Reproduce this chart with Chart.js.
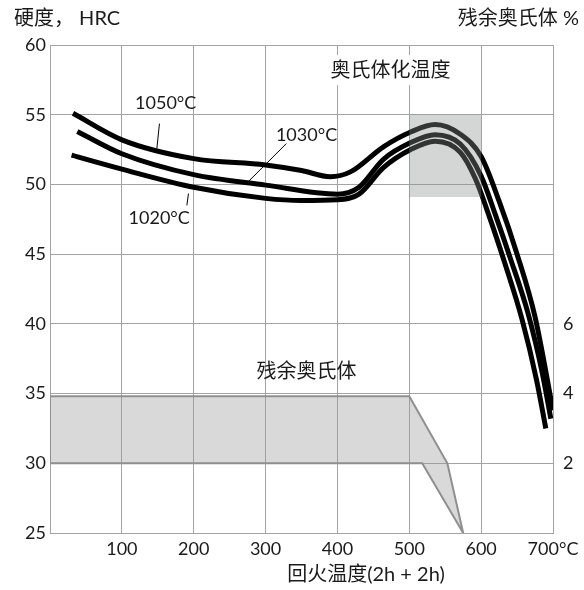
<!DOCTYPE html>
<html>
<head>
<meta charset="utf-8">
<script src="https://cdn.jsdelivr.net/npm/chart.js@4.4.1/dist/chart.umd.min.js"></script>
<style>
    html, body { margin: 0; padding: 0; background: #fff; }
    canvas { display: block; }
</style>
</head>
<body>
<canvas id="temperChart" width="584" height="590"></canvas>
<script>
// Hardness curves (tempering temperature °C -> HRC), one per austenitizing temperature
const temp1050 = [32, 100, 200, 300, 350, 390, 418, 464, 502, 536, 571, 600, 625, 650, 675, 700];
const hrc1050  = [55.1, 53.2, 51.85, 51.4, 51.0, 50.55, 50.9, 52.7, 53.76, 54.3, 53.6, 52.0, 48.8, 45.0, 40.5, 33.8];

const temp1030 = [38, 100, 200, 300, 400, 430, 464, 502, 536, 571, 600, 620, 640, 665, 685, 697];
const hrc1030  = [53.8, 52.2, 50.7, 49.95, 49.3, 49.8, 51.8, 53.0, 53.57, 52.9, 50.6, 47.8, 44.8, 40.8, 36.5, 33.2];

const temp1020 = [30, 100, 200, 300, 350, 400, 430, 464, 502, 536, 571, 592, 612, 632, 657, 677, 690];
const hrc1020  = [52.1, 51.1, 49.8, 49.0, 48.85, 48.9, 49.3, 51.2, 52.5, 53.1, 52.3, 50.4, 47.6, 44.5, 40.3, 36.0, 32.5];

// Retained austenite band (outline, in HRC-axis units)
const bandTemp = [0, 500, 553, 575, 518, 0, 0];
const bandHrc  = [34.8, 34.8, 30, 25, 30, 30, 34.8];

// Austenitizing temperature box
const boxTemp = [500, 600, 600, 500, 500];
const boxHrc  = [55, 55, 49.1, 49.1, 55];

// Tick labels
const xTicks = [100, 200, 300, 400, 500, 600, 700];
const rightTicks = [2, 4, 6];

const FONT = "Lato, 'Noto Sans CJK SC', sans-serif";
const INK = '#1a1a1a';
const GRID = '#a3a3a3';

function toPoints(xs, ys) {
    return xs.map((v, i) => ({ x: v, y: ys[i] }));
}

function curve(xs, ys) {
    return {
        data: toPoints(xs, ys),
        showLine: true,
        borderColor: '#000',
        borderWidth: 5,
        pointRadius: 0,
        tension: 0.4,
        cubicInterpolationMode: 'monotone',
        fill: false
    };
}

// text labels and leader lines, positioned in data units
const labels = [
    { text: '1050°C', x: 161, y: 55.8, lead: [152.3, 54.36, 148.7, 52.57] },
    { text: '1030°C', x: 357, y: 53.5, lead: [328.9, 52.93, 276.3, 50.22] },
    { text: '1020°C', x: 152, y: 47.6, lead: [192.7, 49.34, 190.5, 48.5] },
    { text: '残余奥氏体', x: 357, y: 36.55 },
    { text: '奥氏体化温度', x: 474, y: 58.2, boxed: true }
];

const annotate = {
    id: 'annotate',
    afterDatasetsDraw(chart) {
        const { ctx, scales } = chart;
        const sx = scales.x, sy = scales.y;
        ctx.save();
        labels.forEach(l => {
            const px = sx.getPixelForValue(l.x);
            const py = sy.getPixelForValue(l.y);
            const cjk = /[\u4e00-\u9fff]/.test(l.text);
            ctx.font = (cjk ? '20px ' : '18px ') + FONT;
            if (l.boxed) {
                const w = ctx.measureText(l.text).width;
                ctx.fillStyle = '#fff';
                ctx.fillRect(px - w / 2 - 6, py - 15, w + 12, 30);
            }
            ctx.fillStyle = INK;
            ctx.textAlign = 'center';
            ctx.textBaseline = 'middle';
            ctx.fillText(l.text, px, py);
            if (l.lead) {
                ctx.strokeStyle = '#000';
                ctx.lineWidth = 1;
                ctx.beginPath();
                ctx.moveTo(sx.getPixelForValue(l.lead[0]), sy.getPixelForValue(l.lead[1]));
                ctx.lineTo(sx.getPixelForValue(l.lead[2]), sy.getPixelForValue(l.lead[3]));
                ctx.stroke();
            }
        });
        ctx.restore();
    },
    afterDraw(chart) {
        const ctx = chart.ctx;
        ctx.save();
        ctx.fillStyle = INK;
        ctx.font = '20px ' + FONT;
        ctx.textBaseline = 'middle';
        ctx.textAlign = 'left';
        ctx.fillText('硬度， HRC', 14, 19);
        ctx.textAlign = 'right';
        ctx.fillText('残余奥氏体 %', 579, 19);
        ctx.textAlign = 'center';
        ctx.fillText('回火温度(2h + 2h)', 366, 575);
        ctx.restore();
    }
};

const ctx = document.getElementById('temperChart').getContext('2d');
new Chart(ctx, {
    type: 'scatter',
    data: {
        datasets: [
            {
                data: toPoints(boxTemp, boxHrc),
                showLine: true,
                borderWidth: 0,
                borderColor: 'rgba(0,0,0,0)',
                backgroundColor: 'rgba(137,140,140,0.37)',
                pointRadius: 0,
                tension: 0,
                fill: 'shape'
            },
            curve(temp1050, hrc1050),
            curve(temp1030, hrc1030),
            curve(temp1020, hrc1020),
            {
                data: toPoints(bandTemp, bandHrc),
                showLine: true,
                borderWidth: 2,
                borderColor: '#8f8f8f',
                backgroundColor: 'rgba(150,150,150,0.36)',
                pointRadius: 0,
                tension: 0,
                fill: 'shape'
            }
        ]
    },
    options: {
        responsive: false,
        animation: false,
        layout: { padding: { top: 45, left: 0, right: 0, bottom: 0 } },
        plugins: {
            legend: { display: false },
            tooltip: { enabled: false }
        },
        scales: {
            x: {
                type: 'linear',
                min: 0,
                max: 700,
                afterFit: scale => { scale.height = 57; },
                afterBuildTicks: scale => {
                    scale.ticks = [{ value: 0 }].concat(xTicks.map(v => ({ value: v })));
                },
                grid: { color: GRID, lineWidth: 1, drawTicks: false },
                border: { color: GRID },
                ticks: {
                    padding: 5,
                    color: INK,
                    font: { family: FONT, size: 18 },
                    maxRotation: 0,
                    callback: v => v === 0 ? '' : (v === 700 ? '700°C' : String(v))
                }
            },
            y: {
                type: 'linear',
                position: 'left',
                min: 25,
                max: 60,
                afterFit: scale => { scale.width = 50; },
                grid: { color: GRID, lineWidth: 1, drawTicks: false },
                border: { color: GRID },
                ticks: {
                    stepSize: 5,
                    padding: 4,
                    color: INK,
                    font: { family: FONT, size: 18 }
                }
            },
            y2: {
                type: 'linear',
                position: 'right',
                min: 0,
                max: 14,
                afterFit: scale => { scale.width = 31; },
                afterBuildTicks: scale => {
                    scale.ticks = rightTicks.map(v => ({ value: v }));
                },
                grid: { display: false, drawTicks: false },
                border: { display: false },
                ticks: {
                    padding: 10,
                    color: INK,
                    font: { family: FONT, size: 18 }
                }
            }
        }
    },
    plugins: [annotate]
});
</script>
</body>
</html>
